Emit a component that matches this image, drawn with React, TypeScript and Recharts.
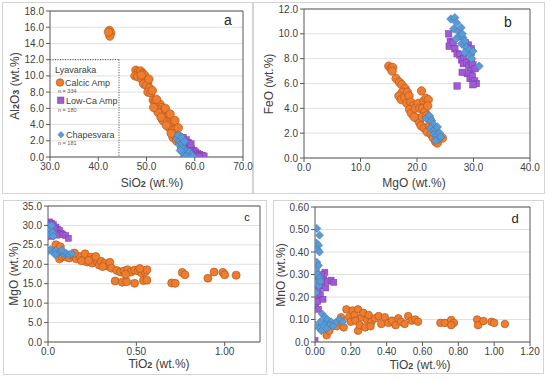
import React from 'react';
import { ScatterChart, Scatter, XAxis, YAxis, CartesianGrid, ReferenceLine } from 'recharts';

// ---------- Panel a: SiO2 vs Al2O3 ----------
const aCalcic: [number, number][] = [
  [42.3, 15.6], [42.6, 15.3], [42.4, 14.9], [42.1, 15.4],
  [47.8, 10.7], [48.3, 10.5], [48.8, 10.6], [47.6, 10.0], [48.2, 9.9], [49.2, 10.3], [49.6, 10.1], [49.0, 9.6],
  [49.8, 9.4], [50.2, 9.2], [49.4, 9.0], [50.0, 8.8], [50.6, 8.5], [50.3, 8.0], [50.9, 7.9], [51.4, 7.0],
  [51.8, 6.9], [52.3, 6.7], [52.0, 6.3], [52.8, 6.5], [53.2, 6.1], [52.6, 5.8], [53.6, 5.7], [53.1, 5.3],
  [54.0, 5.4], [54.4, 5.0], [53.7, 4.8], [54.8, 4.7], [55.2, 4.4], [54.2, 4.3], [55.0, 4.0], [55.6, 3.9],
  [54.7, 3.6], [55.4, 3.3], [56.0, 3.4], [55.8, 2.9], [56.4, 2.6], [55.5, 2.4], [56.2, 2.0], [56.8, 1.8],
  [57.3, 1.4], [53.4, 4.5], [52.4, 5.5], [48.9, 10.1], [50.5, 9.6], [51.2, 8.2], [52.1, 7.1], [53.9, 6.0],
  [54.9, 5.3], [55.9, 4.5], [56.6, 3.6], [56.9, 2.5], [55.1, 2.9], [54.1, 3.9], [53.0, 4.9], [51.5, 6.1],
];
const aLowCa: [number, number][] = [
  [57.6, 2.4], [58.2, 2.1], [58.6, 1.8], [58.0, 1.4], [58.9, 1.3], [59.3, 1.0], [58.4, 0.9], [59.8, 0.8],
  [60.2, 0.6], [59.0, 0.5], [60.6, 0.4], [61.0, 0.3], [61.5, 0.2], [61.9, 0.1], [59.6, 0.2], [60.4, 0.1],
  [58.7, 0.2], [57.8, 0.3], [60.9, 0.0], [59.2, 1.6],
];
const aChapes: [number, number][] = [
  [56.3, 2.3], [56.6, 2.7], [56.9, 2.0], [57.3, 2.4], [56.8, 1.5], [57.4, 1.6], [57.2, 1.1], [57.8, 1.0],
  [58.1, 0.7], [57.6, 0.5], [58.5, 0.4], [58.9, 0.6], [59.3, 0.3], [58.2, 0.1], [58.8, 0.0], [59.6, 0.1],
  [57.9, 1.9], [57.0, 0.8],
];

// ---------- Panel b: MgO vs FeO ----------
const bCalcic: [number, number][] = [
  [15.0, 7.4], [15.4, 7.2], [15.7, 7.3], [15.6, 7.0], [16.3, 6.4], [16.9, 6.1], [17.3, 5.9], [17.9, 5.6],
  [17.4, 5.3], [16.8, 5.0], [17.2, 4.7], [17.8, 4.9], [18.3, 5.3], [18.6, 5.0], [18.2, 4.4], [18.9, 4.5],
  [19.3, 4.2], [18.7, 3.9], [19.0, 3.6], [19.7, 4.0], [20.2, 4.4], [20.5, 4.0], [20.8, 5.4], [21.2, 4.6],
  [21.6, 4.8], [22.0, 4.7], [21.0, 4.0], [21.4, 3.7], [20.0, 3.2], [20.4, 2.9], [20.9, 3.3], [21.7, 3.4],
  [20.7, 2.6], [21.3, 2.4], [21.8, 2.1], [22.2, 2.6], [22.5, 1.9], [22.9, 1.6], [23.3, 1.3], [23.6, 1.2],
  [24.5, 1.6], [19.5, 3.3], [22.3, 3.1], [21.9, 4.2],
];
const bLowCa: [number, number][] = [
  [25.6, 10.0], [25.9, 9.4], [25.7, 9.0], [26.4, 9.3], [26.7, 8.8], [27.1, 8.4], [27.6, 8.3], [27.9, 7.9],
  [28.3, 8.0], [28.2, 7.6], [28.8, 7.7], [29.2, 7.4], [29.6, 7.8], [29.9, 7.5], [29.5, 7.0], [28.9, 6.8],
  [29.4, 6.4], [29.8, 6.6], [30.2, 6.2], [30.5, 6.0], [29.9, 5.9], [28.5, 9.3], [29.1, 9.1], [29.6, 8.8],
  [27.1, 5.8], [30.3, 7.2], [28.0, 6.9],
];
const bChapes: [number, number][] = [
  [26.0, 11.2], [26.7, 11.3], [27.0, 10.9], [26.5, 10.4], [27.3, 10.2], [27.8, 10.5], [27.5, 9.8], [28.1, 9.7],
  [27.9, 9.2], [28.5, 9.4], [28.7, 8.9], [29.2, 8.7], [28.4, 8.5], [29.5, 8.3], [29.9, 8.6], [29.7, 8.0],
  [31.0, 7.4], [28.0, 10.0], [26.9, 9.6],
  [21.6, 3.2], [22.2, 3.4], [22.6, 3.0], [22.9, 2.7], [22.4, 2.4], [23.2, 2.3], [23.6, 2.5], [23.0, 1.9],
  [23.5, 1.8], [24.0, 2.0], [23.8, 1.5], [23.3, 1.4], [24.2, 1.7],
];

// ---------- Panel c: TiO2 vs MgO ----------
const cCalcic: [number, number][] = [
  [0.045, 25.0], [0.06, 23.8], [0.07, 24.5], [0.065, 21.4], [0.08, 21.9], [0.1, 22.0], [0.12, 21.6], [0.14, 22.3],
  [0.16, 21.4], [0.18, 22.0], [0.2, 21.2], [0.21, 22.7], [0.22, 20.6], [0.24, 21.8], [0.25, 20.3], [0.26, 21.5],
  [0.28, 20.5], [0.29, 19.8], [0.3, 20.8], [0.32, 20.2], [0.34, 19.5], [0.35, 20.5], [0.36, 19.0], [0.39, 18.4],
  [0.41, 18.0], [0.43, 18.3], [0.45, 18.6], [0.47, 18.0], [0.49, 18.5], [0.51, 18.3], [0.53, 17.8], [0.55, 18.1],
  [0.56, 18.6], [0.38, 15.7], [0.42, 15.4], [0.445, 15.5], [0.49, 15.1], [0.54, 15.8], [0.56, 15.9], [0.70, 15.2],
  [0.72, 15.1], [0.76, 17.9], [0.775, 17.3], [0.905, 16.4], [0.94, 18.0], [0.99, 17.9], [1.0, 17.3], [1.065, 17.2],
  [0.15, 22.9], [0.27, 22.0], [0.19, 20.9], [0.23, 21.0], [0.31, 19.4], [0.44, 17.4], [0.52, 18.9],
];
const cLowCa: [number, number][] = [
  [0.008, 30.9], [0.02, 30.6], [0.03, 30.2], [0.045, 29.6], [0.055, 29.0], [0.065, 28.7], [0.04, 28.3], [0.075, 28.0],
  [0.085, 27.6], [0.1, 27.4], [0.115, 26.7], [0.01, 28.8], [0.018, 27.2], [0.05, 27.5], [0.035, 29.3],
];
const cChapes: [number, number][] = [
  [0.005, 29.8], [0.015, 28.9], [0.01, 27.6], [0.025, 28.2], [0.02, 30.0], [0.03, 27.2],
  [0.0, 23.4], [0.015, 23.8], [0.03, 23.1], [0.045, 23.6], [0.06, 22.9], [0.075, 23.2], [0.09, 22.6], [0.105, 22.8],
  [0.12, 22.5], [0.135, 22.8], [0.04, 22.5], [0.08, 23.7],
];

// ---------- Panel d: TiO2 vs MnO ----------
const dCalcic: [number, number][] = [
  [0.065, 0.03], [0.08, 0.05], [0.1, 0.08], [0.12, 0.07], [0.14, 0.09], [0.16, 0.065], [0.175, 0.145], [0.19, 0.11],
  [0.2, 0.09], [0.21, 0.14], [0.22, 0.12], [0.225, 0.095], [0.24, 0.145], [0.24, 0.05], [0.25, 0.075], [0.26, 0.11],
  [0.27, 0.13], [0.28, 0.065], [0.29, 0.1], [0.3, 0.12], [0.315, 0.09], [0.335, 0.105], [0.355, 0.115], [0.37, 0.08],
  [0.39, 0.11], [0.41, 0.085], [0.43, 0.095], [0.45, 0.075], [0.465, 0.105], [0.48, 0.09], [0.5, 0.08], [0.52, 0.115],
  [0.54, 0.095], [0.56, 0.1], [0.575, 0.09], [0.70, 0.085], [0.725, 0.085], [0.76, 0.098], [0.775, 0.085], [0.76, 0.075],
  [0.905, 0.1], [0.91, 0.075], [0.94, 0.093], [0.985, 0.09], [1.0, 0.085], [1.06, 0.08], [0.145, 0.11], [0.31, 0.07],
];
const dLowCa: [number, number][] = [
  [0.0, 0.007], [0.005, 0.16], [0.01, 0.2], [0.015, 0.18], [0.02, 0.23], [0.025, 0.26], [0.03, 0.21], [0.04, 0.25],
  [0.045, 0.19], [0.05, 0.28], [0.055, 0.31], [0.06, 0.24], [0.07, 0.27], [0.09, 0.275], [0.105, 0.265], [0.01, 0.29],
  [0.035, 0.3], [0.02, 0.145],
];
const dChapes: [number, number][] = [
  [0.01, 0.505], [0.025, 0.475], [0.008, 0.44], [0.02, 0.43], [0.015, 0.41], [0.025, 0.4], [0.01, 0.355], [0.02, 0.34],
  [0.005, 0.32], [0.015, 0.3], [0.025, 0.285], [0.01, 0.265], [0.02, 0.25], [0.03, 0.27], [0.005, 0.22],
  [0.04, 0.125], [0.055, 0.11], [0.07, 0.1], [0.09, 0.09], [0.12, 0.09], [0.14, 0.1], [0.02, 0.065], [0.035, 0.05],
  [0.05, 0.08], [0.08, 0.075], [0.0, 0.075], [0.03, 0.09], [0.1, 0.07], [0.065, 0.06], [0.155, 0.09],
];

// ---------- Ticks ----------
const aXTicks = [30, 40, 50, 60, 70];
const aYTicks = [0, 2, 4, 6, 8, 10, 12, 14, 16, 18];
const bXTicks = [0, 10, 20, 30, 40];
const bYTicks = [0, 2, 4, 6, 8, 10, 12];
const cXTicks = [0, 0.5, 1.0];
const cXLabels = ['0.0', '0.50', '1.00'];
const cYTicks = [0, 5, 10, 15, 20, 25, 30, 35];
const dXTicks = [0, 0.2, 0.4, 0.6, 0.8, 1.0, 1.2];
const dXLabels = ['0.00', '0.20', '0.40', '0.60', '0.80', '1.00', '1.20'];
const dYTicks = [0, 0.1, 0.2, 0.3, 0.4, 0.5, 0.6];
const dYLabels = ['0.0', '0.10', '0.20', '0.30', '0.40', '0.50', '0.60'];

const toPts = (arr: [number, number][]) => arr.map(([x, y]) => ({ x, y }));

const ORANGE = '#ED7D31';
const ORANGE_S = '#B9581A';
const PURPLE = '#9E5BD3';
const PURPLE_S = '#7B3BB0';
const BLUE = '#5B9BD5';
const BLUE_S = '#3A77B5';
const AXIS = '#595959';
const FONT = '"Liberation Sans", Arial, sans-serif';

const circleShape = (r: number) => (p: any) =>
  <circle cx={p.cx} cy={p.cy} r={r} fill={ORANGE} stroke={ORANGE_S} strokeWidth={0.7} />;
const squareShape = (s: number) => (p: any) =>
  <rect x={p.cx - s / 2} y={p.cy - s / 2} width={s} height={s} fill={PURPLE} stroke={PURPLE_S} strokeWidth={0.5} />;
const diamondShape = (h: number) => (p: any) =>
  <path d={`M${p.cx},${p.cy - h}L${p.cx + h},${p.cy}L${p.cx},${p.cy + h}L${p.cx - h},${p.cy}Z`} fill={BLUE} stroke={BLUE_S} strokeWidth={0.6} />;

const tickStyle = { fontSize: 10, fill: '#404040', fontFamily: FONT };

type PanelProps = {
  left: number; top: number; width: number; height: number;
  margin: { top: number; right: number; left: number; bottom: number };
  xDomain: [number, number]; yDomain: [number, number];
  xTicks: number[]; yTicks: number[];
  xFmt: (v: number) => string; yFmt: (v: number) => string;
  calcic: [number, number][]; lowca: [number, number][]; chapes: [number, number][];
  r: number; sq: number; dm: number;
  extra?: React.ReactNode;
};

function Panel(p: PanelProps) {
  return (
    <div style={{ position: 'absolute', left: p.left, top: p.top }}>
      <ScatterChart width={p.width} height={p.height} margin={p.margin}>
        <CartesianGrid vertical={false} stroke="#e0e0e0" strokeWidth={1} />
        <XAxis type="number" dataKey="x" domain={p.xDomain} ticks={p.xTicks} tickFormatter={p.xFmt}
          allowDataOverflow interval={0} height={30} stroke={AXIS} tickSize={4} tickMargin={2}
          tick={tickStyle} tickLine={{ stroke: AXIS }} />
        <YAxis type="number" dataKey="y" domain={p.yDomain} ticks={p.yTicks} tickFormatter={p.yFmt}
          allowDataOverflow interval={0} width={40} stroke={AXIS} tickSize={4} tickMargin={2}
          tick={tickStyle} tickLine={{ stroke: AXIS }} />
        <ReferenceLine y={p.yDomain[1]} stroke={AXIS} strokeWidth={1} />
        <ReferenceLine x={p.xDomain[1]} stroke={AXIS} strokeWidth={1} />
        {p.extra}
        <Scatter data={toPts(p.calcic)} shape={circleShape(p.r)} isAnimationActive={false} />
        <Scatter data={toPts(p.lowca)} shape={squareShape(p.sq)} isAnimationActive={false} />
        <Scatter data={toPts(p.chapes)} shape={diamondShape(p.dm)} isAnimationActive={false} />
      </ScatterChart>
    </div>
  );
}

const Frame = ({ l, t, w, h }: { l: number; t: number; w: number; h: number }) => (
  <div style={{ position: 'absolute', left: l, top: t, width: w, height: h, border: '1px solid #d4d4d4', boxSizing: 'border-box' }} />
);

const Chem = ({ x, y, parts, rotate, size = 12 }: { x: number; y: number; parts: [string, boolean][]; rotate?: boolean; size?: number }) => (
  <text x={x} y={y} textAnchor="middle" fontSize={size} fill="#404040" fontFamily={FONT}
    transform={rotate ? `rotate(-90 ${x} ${y})` : undefined}>
    {parts.map(([s, sub], i) => (
      <tspan key={i} fontSize={sub ? size * 0.75 : size} fontWeight={sub ? 'bold' : 'normal'}>{s}</tspan>
    ))}
  </text>
);

const f1 = (v: number) => v.toFixed(1);

export default function App() {
  return (
    <div style={{ position: 'absolute', left: 0, top: 0, width: 550, height: 381, background: '#fff', overflow: 'hidden' }}>
      <Frame l={2} t={2} w={251} h={192} />
      <Frame l={253} t={2} w={292} h={192} />
      <Frame l={3} t={200} w={264} h={175} />
      <Frame l={273} t={200} w={271} h={174} />

      <Panel left={0} top={0} width={260} height={195}
        margin={{ top: 11, right: 17, left: 10, bottom: 8 }}
        xDomain={[30, 70]} yDomain={[0, 18]} xTicks={aXTicks} yTicks={aYTicks} xFmt={f1} yFmt={f1}
        calcic={aCalcic} lowca={aLowCa} chapes={aChapes} r={4.2} sq={6.5} dm={4.2}
        extra={[
          <ReferenceLine key="l1" segment={[{ x: 30, y: 12 }, { x: 44.3, y: 12 }]} stroke="#404040" strokeDasharray="1 1.5" />,
          <ReferenceLine key="l2" segment={[{ x: 44.3, y: 12 }, { x: 44.3, y: 0 }]} stroke="#404040" strokeDasharray="1 1.5" />,
        ]}
      />
      <Panel left={255} top={0} width={295} height={195}
        margin={{ top: 9, right: 20, left: 9, bottom: 7 }}
        xDomain={[0, 40]} yDomain={[0, 12]} xTicks={bXTicks} yTicks={bYTicks} xFmt={f1} yFmt={f1}
        calcic={bCalcic} lowca={bLowCa} chapes={bChapes} r={4.2} sq={6.5} dm={4.2}
      />
      <Panel left={0} top={195} width={270} height={186}
        margin={{ top: 11, right: 10, left: 8, bottom: 9 }}
        xDomain={[0, 1.2]} yDomain={[0, 35]} xTicks={cXTicks} yTicks={cYTicks}
        xFmt={(v) => cXLabels[cXTicks.indexOf(v)] ?? ''} yFmt={f1}
        calcic={cCalcic} lowca={cLowCa} chapes={cChapes} r={4} sq={6} dm={4}
      />
      <Panel left={270} top={195} width={280} height={186}
        margin={{ top: 12, right: 20, left: 5, bottom: 9 }}
        xDomain={[0, 1.2]} yDomain={[0, 0.6]} xTicks={dXTicks} yTicks={dYTicks}
        xFmt={(v) => dXLabels[dXTicks.indexOf(v)] ?? ''} yFmt={(v) => dYLabels[dYTicks.indexOf(v)] ?? ''}
        calcic={dCalcic} lowca={dLowCa} chapes={dChapes} r={3.8} sq={6} dm={4}
      />

      <svg width={550} height={381} style={{ position: 'absolute', left: 0, top: 0, pointerEvents: 'none' }}>
        {/* axis titles */}
        <Chem x={19} y={86} rotate parts={[['Al', false], ['2', true], ['O', false], ['3', true], [' (wt.%)', false]]} />
        <Chem x={152} y={187} parts={[['SiO', false], ['2', true], [' (wt.%)', false]]} />
        <Chem x={273} y={84} rotate parts={[['FeO (wt.%)', false]]} />
        <Chem x={414} y={187} parts={[['MgO (wt.%)', false]]} />
        <Chem x={18} y={274} rotate parts={[['MgO (wt.%)', false]]} />
        <Chem x={159} y={368} parts={[['TiO', false], ['2', true], [' (wt.%)', false]]} />
        <Chem x={285} y={275} rotate parts={[['MnO (wt.%)', false]]} />
        <Chem x={420} y={369} parts={[['TiO', false], ['2', true], [' (wt.%)', false]]} />
        {/* panel letters */}
        <text x={228} y={25} fontSize={14} fill="#262626" fontFamily={FONT} textAnchor="middle">a</text>
        <text x={508} y={27} fontSize={14} fill="#262626" fontFamily={FONT} textAnchor="middle">b</text>
        <text x={247} y={221} fontSize={11} fill="#262626" fontFamily={FONT} textAnchor="middle">c</text>
        <text x={515} y={223} fontSize={13} fill="#262626" fontFamily={FONT} textAnchor="middle">d</text>
        {/* legend panel a */}
        <text x={55} y={73} fontSize={9} fill="#404040" fontFamily={FONT}>Lyavaraka</text>
        <circle cx={60} cy={82.5} r={3.8} fill={ORANGE} stroke={ORANGE_S} strokeWidth={0.7} />
        <text x={65} y={85.5} fontSize={9} fill="#404040" fontFamily={FONT}>Calcic Amp</text>
        <text x={58} y={92.5} fontSize={5.5} fill="#595959" fontFamily={FONT}>n = 334</text>
        <rect x={57.5} y={97} width={6.5} height={6.5} fill={PURPLE} stroke={PURPLE_S} strokeWidth={0.5} />
        <text x={66} y={103.5} fontSize={9} fill="#404040" fontFamily={FONT}>Low-Ca Amp</text>
        <text x={58} y={111.5} fontSize={5.5} fill="#595959" fontFamily={FONT}>n = 180</text>
        <path d="M61,131.5L64.2,134.7L61,137.9L57.8,134.7Z" fill={BLUE} stroke={BLUE_S} strokeWidth={0.5} />
        <text x={66} y={137.5} fontSize={9} fill="#404040" fontFamily={FONT}>Chapesvara</text>
        <text x={58} y={145} fontSize={5.5} fill="#595959" fontFamily={FONT}>n = 181</text>
      </svg>
    </div>
  );
}
